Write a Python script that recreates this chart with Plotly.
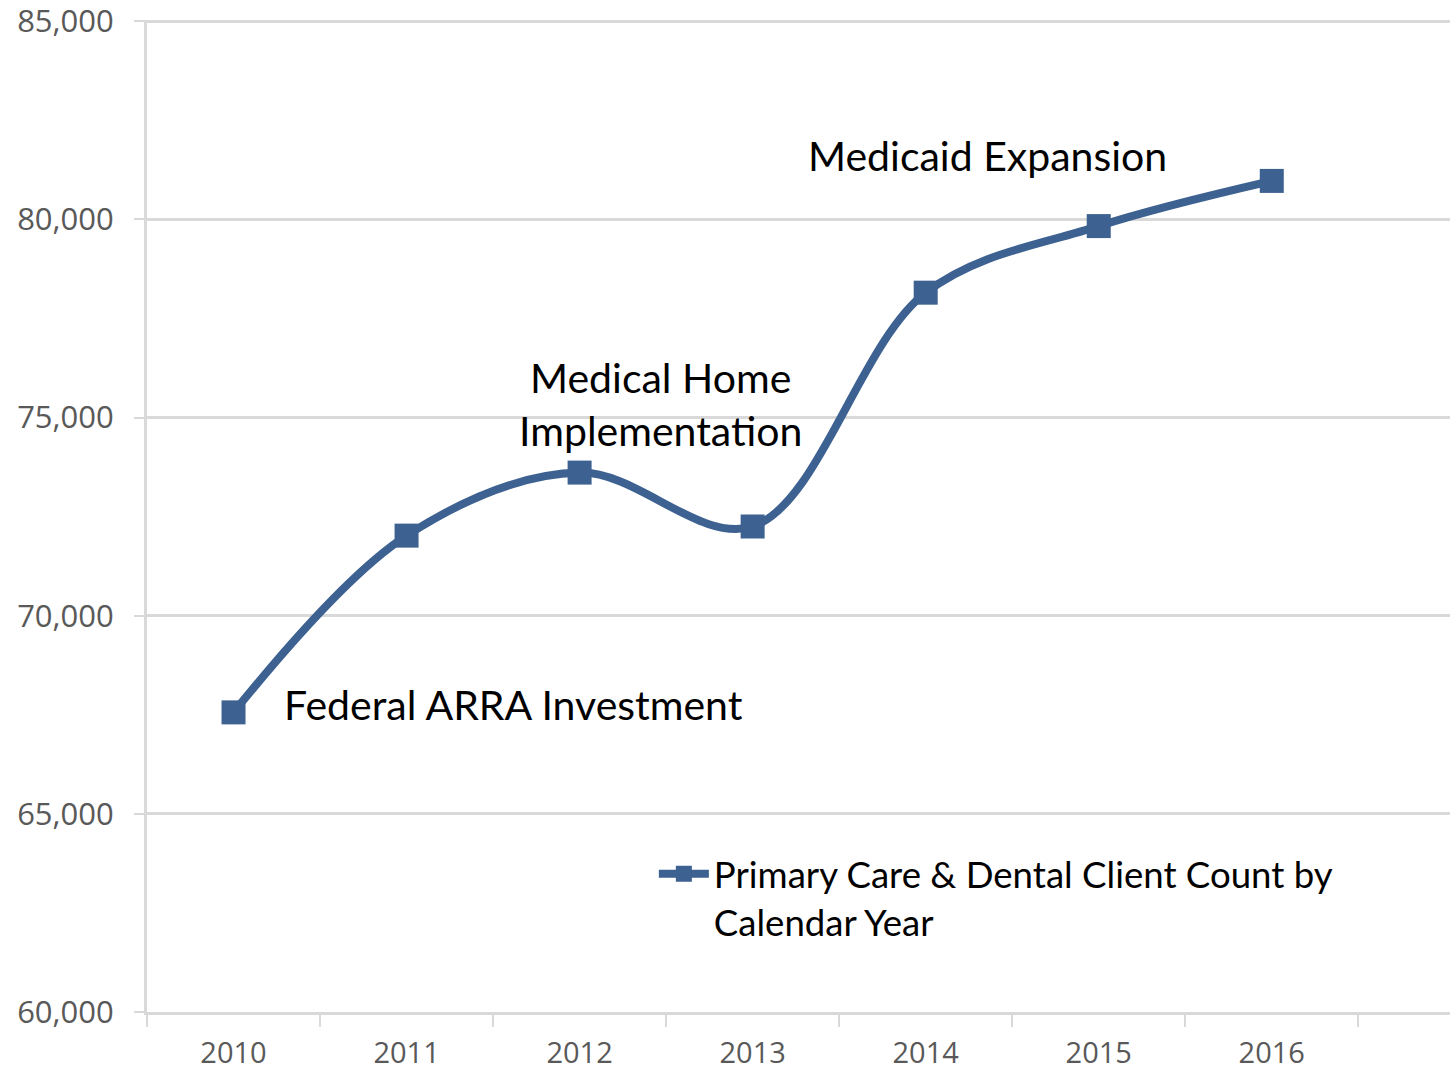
import plotly.graph_objects as go

years = ["2010", "2011", "2012", "2013", "2014", "2015", "2016"]
clients = [67560, 72020, 73610, 72250, 78150, 79830, 80970]
series_name = "Primary Care & Dental Client Count by<br>Calendar Year"

blue = "#3D6190"
grid = "#D9D9D9"

fig = go.Figure()
fig.add_trace(go.Scatter(
    x=years, y=clients, name=series_name,
    mode="lines+markers",
    line=dict(color=blue, width=8, shape="spline", smoothing=1.0),
    marker=dict(symbol="square", size=24, color=blue),
))

lbl_font = dict(family="Lato", size=41, color="black")
fig.add_annotation(x=4.36, y=81600, text="Medicaid Expansion", showarrow=False,
                   font=lbl_font, xanchor="center", yanchor="middle")
fig.add_annotation(x=2.47, y=75350, text="Medical Home<br>Implementation", showarrow=False,
                   font=lbl_font, xanchor="center", yanchor="middle")
fig.add_annotation(x=0.28, y=67760, text="Federal ARRA Investment", showarrow=False,
                   font=lbl_font, xanchor="left", yanchor="middle")

fig.update_layout(
    template="none",
    width=1451, height=1074,
    margin=dict(l=147, r=1, t=20, b=62),
    paper_bgcolor="white", plot_bgcolor="white",
    showlegend=True,
    legend=dict(x=0.389, y=0.17, xanchor="left", yanchor="top", valign="top",
                font=dict(family="Lato", size=36.6, color="black"),
                bgcolor="rgba(0,0,0,0)", itemwidth=50),
    xaxis=dict(type="category", range=[-0.5, 7.03], tickson="boundaries",
               automargin=False,
               ticks="outside", ticklen=12, tickwidth=2, tickcolor=grid,
               ticklabelstandoff=13,
               showgrid=False, showline=True, linecolor=grid, linewidth=3,
               tickfont=dict(family="Open Sans", size=29, color="#595959")),
    yaxis=dict(range=[60000, 85030], dtick=5000, tickformat=",",
               automargin=False, ticklabeloverflow="allow",
               showgrid=True, gridcolor=grid, gridwidth=3,
               ticks="outside", ticklen=10, tickwidth=2, tickcolor=grid,
               ticklabelstandoff=14,
               showline=True, linecolor=grid, linewidth=3, zeroline=False,
               tickfont=dict(family="Open Sans", size=31, color="#595959")),
)

# page without body margin so the figure fills the window exactly
fig.write_html("out.html", config={"displayModeBar": False},
               post_script="document.body.style.margin='0';")
